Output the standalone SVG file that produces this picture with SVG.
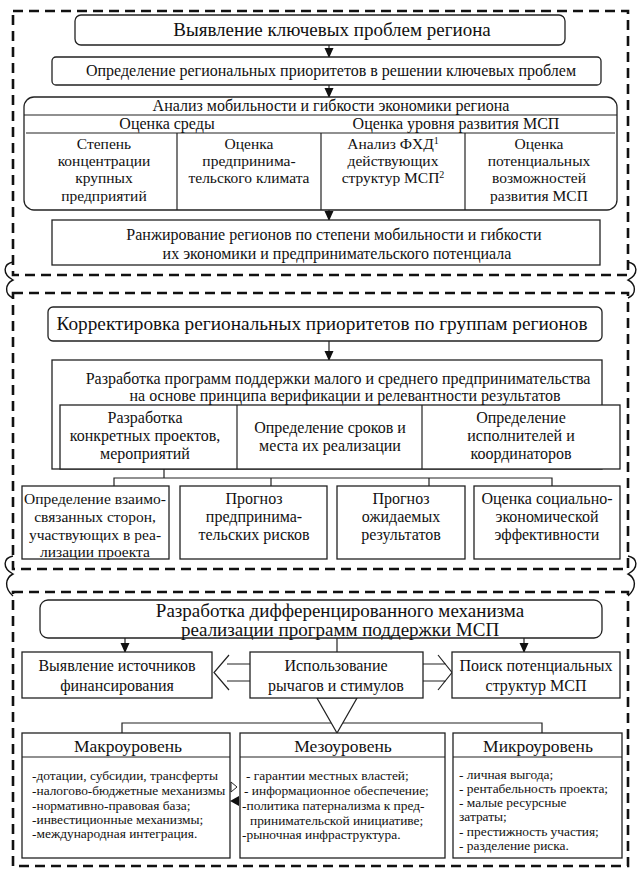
<svg xmlns="http://www.w3.org/2000/svg" width="640" height="877" viewBox="0 0 640 877" font-family="Liberation Serif, DejaVu Serif, serif">
<style>
text { font-family: 'Liberation Serif', 'DejaVu Serif', serif; fill: #111; }
.c { text-anchor: middle; }
.f18 { font-size: 19px; }
.f20 { font-size: 19.3px; }
.f17 { font-size: 17.5px; }
.f15 { font-size: 16px; }
.f14 { font-size: 15.5px; }
.f12 { font-size: 13.4px; }
.box { fill: #fff; stroke: #222; stroke-width: 1.3; }
.ln { fill: none; stroke: #222; stroke-width: 1.2; }
.frame { fill: none; stroke: #111; stroke-width: 2.6; stroke-dasharray: 10 6; }
.brace { fill: none; stroke: #111; stroke-width: 1.4; }
</style>
<defs>
<marker id="ad" markerWidth="10" markerHeight="10" refX="9" refY="5" orient="auto" markerUnits="userSpaceOnUse" viewBox="0 0 10 10">
<path d="M0,0.5 L10,5 L0,9.5 Z" fill="#111"/>
</marker>
</defs>
<rect x="0" y="0" width="640" height="877" fill="#fff"/>

<g id="frames">
<rect class="frame" x="13" y="11" width="615" height="264"/>
<rect class="frame" x="13" y="293" width="615" height="276"/>
<rect class="frame" x="13" y="592" width="615" height="274"/>
<path class="brace" d="M13,262 C3,264 2,274 13,280 C5,284 4,294 13,298"/>
<path class="brace" d="M628,262 C638,264 639,274 628,280 C636,284 637,294 628,298"/>
<path class="brace" d="M13,556 C3,558 2,568 13,574 C5,578 4,588 13,596"/>
<path class="brace" d="M628,556 C638,558 639,568 628,574 C636,578 637,588 628,596"/>
</g>

<g id="connectors">
<line class="ln" x1="329" y1="45" x2="329" y2="57" marker-end="url(#ad)"/>
<line class="ln" x1="329" y1="85" x2="329" y2="97" marker-end="url(#ad)"/>
<line class="ln" x1="329" y1="210" x2="329" y2="220" marker-end="url(#ad)"/>
<line class="ln" x1="329" y1="341" x2="329" y2="360" marker-end="url(#ad)"/>
<path class="ln" d="M164,469 V478 M114,486 V478 H552 V486 M271,478 V486 M429,478 V486"/>
<line class="ln" x1="125" y1="638" x2="125" y2="652" marker-end="url(#ad)"/>
<line class="ln" x1="524" y1="638" x2="524" y2="652" marker-end="url(#ad)"/>
<line class="ln" x1="337" y1="638" x2="337" y2="652"/>
<path class="ln" d="M250,664 H227 M250,681 H227 M229,655 L214,672.5 L229,690"/>
<path class="ln" d="M423,664 H446 M423,681 H446 M438,655 L452,672.5 L438,690"/>
<path class="ln" d="M122,733 V723 H542 V733"/>
<polygon points="317,698 357,698 337,733" fill="#fff" stroke="#222" stroke-width="1.2"/>
</g>

<g id="n1">
<rect class="box" x="75" y="15" width="490" height="30" rx="6"/>
<text class="c f18" x="332" y="36">Выявление ключевых проблем региона</text>
</g>
<g id="n2">
<rect class="box" x="52" y="57" width="549" height="28" rx="4"/>
<text class="c f15" x="331" y="76">Определение региональных приоритетов в решении ключевых проблем</text>
</g>
<g id="n3">
<rect class="box" x="24" y="97" width="593" height="113" rx="10"/>
<line class="ln" x1="24" y1="115" x2="617" y2="115"/>
<line class="ln" x1="26" y1="133" x2="615" y2="133"/>
<line class="ln" x1="177" y1="133" x2="177" y2="210"/>
<line class="ln" x1="321" y1="133" x2="321" y2="210"/>
<line class="ln" x1="465" y1="133" x2="465" y2="210"/>
<text class="c f15" x="331" y="111">Анализ мобильности и гибкости экономики региона</text>
<text class="c f15" x="167" y="129">Оценка среды</text>
<text class="c f15" x="456" y="129">Оценка уровня развития МСП</text>
<text class="c f14"><tspan x="104" y="149">Степень</tspan><tspan x="104" y="166">концентрации</tspan><tspan x="104" y="183">крупных</tspan><tspan x="104" y="201">предприятий</tspan></text>
<text class="c f14"><tspan x="249" y="149">Оценка</tspan><tspan x="249" y="166">предпринима-</tspan><tspan x="249" y="183">тельского климата</tspan></text>
<text class="c f14"><tspan x="393" y="149">Анализ ФХД<tspan dy="-5" font-size="10">1</tspan></tspan><tspan x="393" y="166">действующих</tspan><tspan x="393" y="183">структур МСП<tspan dy="-5" font-size="10">2</tspan></tspan></text>
<text class="c f14"><tspan x="539" y="149">Оценка</tspan><tspan x="539" y="166">потенциальных</tspan><tspan x="539" y="183">возможностей</tspan><tspan x="539" y="201">развития МСП</tspan></text>
</g>
<g id="n4">
<rect class="box" x="52" y="220" width="548" height="45"/>
<text class="c f15" x="334" y="240">Ранжирование регионов по степени мобильности и гибкости</text>
<text class="c f15" x="337" y="259">их экономики и предпринимательского потенциала</text>
</g>

<g id="n5">
<rect class="box" x="48" y="307" width="554" height="34" rx="5"/>
<text class="c f20" x="322" y="330">Корректировка региональных приоритетов по группам регионов</text>
</g>
<g id="n6">
<rect class="box" x="52" y="360" width="550" height="109"/>
<text class="c f15" x="338" y="384">Разработка программ поддержки малого и среднего предпринимательства</text>
<text class="c f15" x="345" y="401">на основе принципа верификации и релевантности результатов</text>
<rect class="box" x="60" y="405" width="560" height="64"/>
<line class="ln" x1="237" y1="405" x2="237" y2="469"/>
<line class="ln" x1="422" y1="405" x2="422" y2="469"/>
<text class="c f15"><tspan x="145" y="423">Разработка</tspan><tspan x="145" y="441">конкретных проектов,</tspan><tspan x="145" y="459">мероприятий</tspan></text>
<text class="c f15"><tspan x="330" y="433">Определение сроков и</tspan><tspan x="330" y="451">места их реализации</tspan></text>
<text class="c f15"><tspan x="521" y="423">Определение</tspan><tspan x="521" y="441">исполнителей и</tspan><tspan x="521" y="459">координаторов</tspan></text>
</g>
<g id="n7">
<rect class="box" x="22" y="486" width="147" height="73"/>
<text class="c f14"><tspan x="95" y="504">Определение взаимо-</tspan><tspan x="95" y="522">связанных сторон,</tspan><tspan x="95" y="540">участвующих в реа-</tspan><tspan x="95" y="557">лизации проекта</tspan></text>
</g>
<g id="n8">
<rect class="box" x="180" y="486" width="147" height="73"/>
<text class="c f15"><tspan x="254" y="504">Прогноз</tspan><tspan x="254" y="522">предпринима-</tspan><tspan x="254" y="540">тельских рисков</tspan></text>
</g>
<g id="n9">
<rect class="box" x="337" y="486" width="128" height="73"/>
<text class="c f15"><tspan x="401" y="504">Прогноз</tspan><tspan x="401" y="522">ожидаемых</tspan><tspan x="401" y="540">результатов</tspan></text>
</g>
<g id="n10">
<rect class="box" x="474" y="486" width="146" height="73"/>
<text class="c f15"><tspan x="547" y="504">Оценка социально-</tspan><tspan x="547" y="522">экономической</tspan><tspan x="547" y="540">эффективности</tspan></text>
</g>

<g id="n11">
<rect class="box" x="40" y="600" width="562" height="38" rx="8"/>
<text class="c f18" x="340" y="617">Разработка дифференцированного механизма</text>
<text class="c f18" x="340" y="636">реализации программ поддержки МСП</text>
</g>
<g id="n12">
<rect class="box" x="22" y="652" width="190" height="46"/>
<text class="c f15"><tspan x="117" y="671">Выявление источников</tspan><tspan x="117" y="691">финансирования</tspan></text>
</g>
<g id="n13">
<rect class="box" x="250" y="652" width="173" height="46"/>
<text class="c f15"><tspan x="336" y="671">Использование</tspan><tspan x="336" y="691">рычагов и стимулов</tspan></text>
</g>
<g id="n14">
<rect class="box" x="452" y="652" width="168" height="46"/>
<text class="c f15"><tspan x="536" y="671">Поиск потенциальных</tspan><tspan x="536" y="691">структур МСП</tspan></text>
</g>

<g id="n15">
<rect class="box" x="22" y="733" width="208" height="125"/>
<line class="ln" x1="22" y1="757" x2="230" y2="757"/>
<text class="c f17" x="128" y="752">Макроуровень</text>
<text class="f12"><tspan x="32" y="780">-дотации, субсидии, трансферты</tspan><tspan x="32" y="795">-налогово-бюджетные механизмы</tspan><tspan x="32" y="810">-нормативно-правовая база;</tspan><tspan x="32" y="824">-инвестиционные механизмы;</tspan><tspan x="32" y="838">-международная интеграция.</tspan></text>
</g>
<g id="n16">
<rect class="box" x="240" y="733" width="205" height="125"/>
<line class="ln" x1="240" y1="757" x2="445" y2="757"/>
<text class="c f17" x="343" y="752">Мезоуровень</text>
<text class="f12"><tspan x="246" y="780">- гарантии местных властей;</tspan><tspan x="244" y="795">- информационное обеспечение;</tspan><tspan x="242" y="810">-политика патернализма к пред-</tspan><tspan x="250" y="825">принимательской инициативе;</tspan><tspan x="242" y="839">-рыночная инфраструктура.</tspan></text>
</g>
<g id="n17">
<rect class="box" x="453" y="733" width="169" height="125"/>
<line class="ln" x1="453" y1="757" x2="622" y2="757"/>
<text class="c f17" x="538" y="752">Микроуровень</text>
<text class="f12"><tspan x="459" y="779">- личная выгода;</tspan><tspan x="459" y="793">- рентабельность проекта;</tspan><tspan x="459" y="807">- малые ресурсные</tspan><tspan x="459" y="821">затраты;</tspan><tspan x="459" y="836">- престижность участия;</tspan><tspan x="459" y="850">- разделение риска.</tspan></text>
</g>
<g id="smallarrows">
<path d="M231,782 L237,787 L231,792 Z" fill="#fff" stroke="#222" stroke-width="1"/>
<path d="M230,801 L239,796 L239,806 Z" fill="#111"/>
</g>
</svg>
